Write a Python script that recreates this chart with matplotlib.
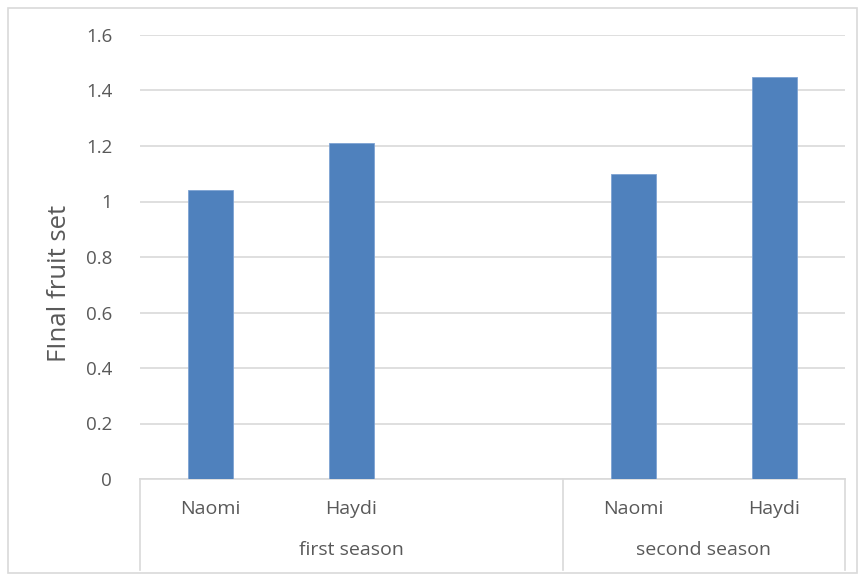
import numpy as np
import matplotlib.pyplot as plt
from matplotlib.lines import Line2D
from matplotlib.patches import Rectangle

# Datos
seasons = ['first season', 'second season']
cultivars = ['Naomi', 'Haydi', '', 'Naomi', 'Haydi']
fruit_set = [1.04, 1.21, np.nan, 1.10, 1.45]
group_slots = [3, 2]

gris = '#595959'
linea = '#d9d9d9'
plt.rcParams['font.family'] = ['Open Sans', 'DejaVu Sans']

fig = plt.figure(figsize=(8.65, 5.79), dpi=100)
ax = fig.add_axes([140/865, 100/579, 705/865, 444/579])

x = np.arange(len(cultivars))
ax.bar(x, fruit_set, width=0.32, color='#4f81bd', edgecolor='#7ea3d3', linewidth=0.6, zorder=3)

ax.set_xlim(-0.5, len(cultivars) - 0.5)
ax.set_ylim(0, 1.6)
ax.set_yticks(np.arange(0, 1.61, 0.2))
ax.set_yticklabels(['0', '0.2', '0.4', '0.6', '0.8', '1', '1.2', '1.4', '1.6'])
ax.yaxis.grid(True, color=linea, linewidth=1.2, zorder=0)
ax.tick_params(axis='y', length=0, pad=20, labelsize=13.5, labelcolor=gris)
ax.set_xticks([])
for s in ['top', 'right', 'left']:
    ax.spines[s].set_visible(False)
ax.spines['bottom'].set_color(linea)
ax.spines['bottom'].set_linewidth(1.2)
ax.set_ylabel('FInal fruit set', fontsize=18.5, color=gris)
ax.yaxis.set_label_coords(-0.097, 0.44)

# Etiquetas de categoria y de grupo
tr = ax.get_xaxis_transform()
for xi, nombre in zip(x, cultivars):
    ax.text(xi, -0.068, nombre, ha='center', va='center', fontsize=14, color=gris, transform=tr)
inicio = -0.5
bordes = [inicio]
for estacion, n in zip(seasons, group_slots):
    ax.text(inicio + n / 2, -0.16, estacion, ha='center', va='center', fontsize=14,
            color=gris, transform=tr)
    inicio += n
    bordes.append(inicio)
for b in bordes:
    ax.add_line(Line2D([b, b], [0, -0.205], transform=tr, color=linea, linewidth=1.2, clip_on=False))

# Marco exterior
fig.patches.append(Rectangle((8/865, 6/579), 849/865, 565/579, transform=fig.transFigure,
                             fill=False, edgecolor=linea, linewidth=1.2))

fig.savefig('out.png', dpi=100)
